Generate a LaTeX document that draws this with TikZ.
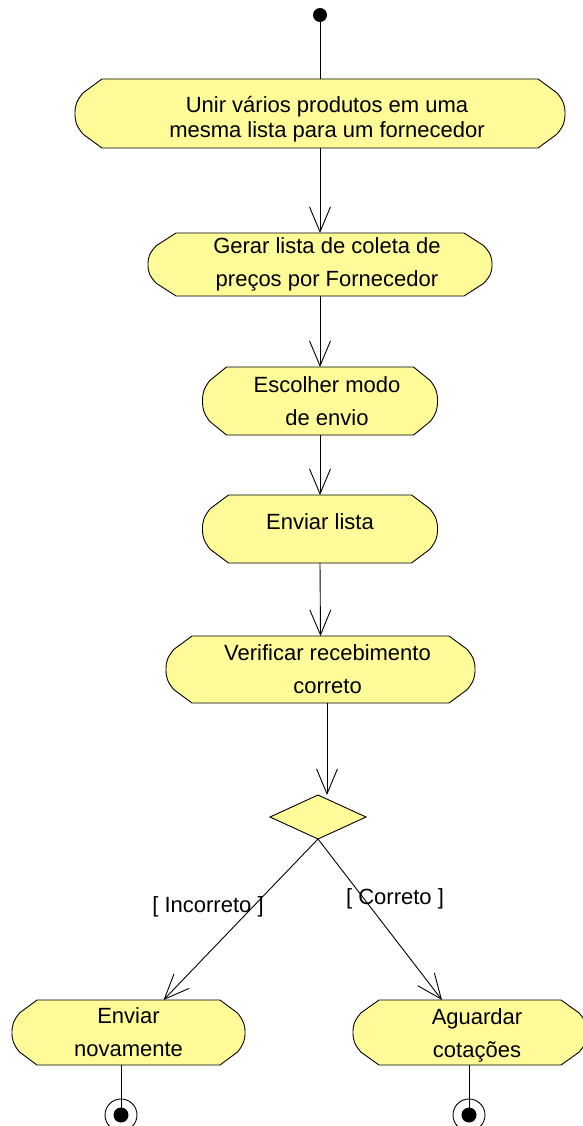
\documentclass[tikz,border=0pt]{standalone}
\usepackage{fontspec}
\setmainfont{Liberation Sans}
\usetikzlibrary{arrows.meta,shapes.geometric,calc}

\definecolor{actfill}{RGB}{255,251,153}

% Activity state: flat top and bottom, bulging chamfered sides
\makeatletter
\pgfkeys{/pgf/activity inset/.initial=24pt}
\pgfdeclareshape{activity}{
  \inheritsavedanchors[from=rectangle]
  \inheritanchorborder[from=rectangle]
  \inheritanchor[from=rectangle]{center}
  \inheritanchor[from=rectangle]{north}
  \inheritanchor[from=rectangle]{south}
  \inheritanchor[from=rectangle]{east}
  \inheritanchor[from=rectangle]{west}
  \inheritanchor[from=rectangle]{north east}
  \inheritanchor[from=rectangle]{north west}
  \inheritanchor[from=rectangle]{south east}
  \inheritanchor[from=rectangle]{south west}
  \inheritanchor[from=rectangle]{text}
  \inheritanchor[from=rectangle]{base}
  \inheritanchor[from=rectangle]{mid}
  \backgroundpath{%
    \southwest \pgf@xa=\pgf@x \pgf@ya=\pgf@y
    \northeast \pgf@xb=\pgf@x \pgf@yb=\pgf@y
    \edef\act@L{\strip@pt\pgf@xa}\edef\act@R{\strip@pt\pgf@xb}%
    \edef\act@B{\strip@pt\pgf@ya}\edef\act@T{\strip@pt\pgf@yb}%
    \pgfmathsetmacro\act@E{\pgfkeysvalueof{/pgf/activity inset}}%
    \pgfmathsetmacro\act@H{\act@T-\act@B}%
    \pgfmathsetmacro\act@M{(\act@T+\act@B)/2}%
    \pgfmathsetmacro\act@La{\act@L+\act@E}%
    \pgfmathsetmacro\act@Lb{\act@L+0.3*\act@E}%
    \pgfmathsetmacro\act@Lc{\act@L+0.05*\act@E}%
    \pgfmathsetmacro\act@Ra{\act@R-\act@E}%
    \pgfmathsetmacro\act@Rb{\act@R-0.3*\act@E}%
    \pgfmathsetmacro\act@Rc{\act@R-0.05*\act@E}%
    \pgfmathsetmacro\act@Ta{\act@T-0.2*\act@H}%
    \pgfmathsetmacro\act@Tb{\act@T-0.32*\act@H}%
    \pgfmathsetmacro\act@Ba{\act@B+0.2*\act@H}%
    \pgfmathsetmacro\act@Bb{\act@B+0.32*\act@H}%
    \pgfmathsetmacro\act@Mu{\act@M+0.12*\act@H}%
    \pgfmathsetmacro\act@Md{\act@M-0.12*\act@H}%
    \def\act@p##1##2{\pgfqpoint{##1pt}{##2pt}}%
    \pgfpathmoveto{\act@p\act@La\act@T}%
    \pgfpathlineto{\act@p\act@Ra\act@T}%
    \pgfpathlineto{\act@p\act@Rb\act@Ta}%
    \pgfpathcurveto{\act@p\act@Rc\act@Tb}{\act@p\act@R\act@Mu}{\act@p\act@R\act@M}%
    \pgfpathcurveto{\act@p\act@R\act@Md}{\act@p\act@Rc\act@Bb}{\act@p\act@Rb\act@Ba}%
    \pgfpathlineto{\act@p\act@Ra\act@B}%
    \pgfpathlineto{\act@p\act@La\act@B}%
    \pgfpathlineto{\act@p\act@Lb\act@Ba}%
    \pgfpathcurveto{\act@p\act@Lc\act@Bb}{\act@p\act@L\act@Md}{\act@p\act@L\act@M}%
    \pgfpathcurveto{\act@p\act@L\act@Mu}{\act@p\act@Lc\act@Tb}{\act@p\act@Lb\act@Ta}%
    \pgfpathclose
  }
}
\makeatother

\newcommand\indt{\hspace*{14pt}}

\tikzset{
  act/.style={shape=activity, draw=black, fill=actfill, line width=0.9pt,
    inner sep=0pt, outer sep=0pt, align=center,
    font=\fontsize{22}{33}\selectfont},
  decision/.style={diamond, draw=black, fill=actfill, line width=0.9pt,
    inner sep=0pt, outer sep=0pt, minimum width=96pt, minimum height=44pt},
  initial/.style={circle, fill=black, inner sep=0pt, minimum size=14pt},
  final/.style={circle, draw=black, line width=0.9pt, inner sep=0pt,
    minimum size=32pt,
    path picture={\fill[black] (path picture bounding box.center) circle (7.5pt);}},
  guard/.style={font=\fontsize{22}{26}\selectfont, inner sep=0pt},
  flow/.style={line width=0.9pt},
  arr/.style={flow, -{Straight Barb[length=25pt,width=21pt]}}
}

\begin{document}
\begin{tikzpicture}[x=1pt, y=-1pt]
  \useasboundingbox (0,0) rectangle (582,1126);

  \node[initial] (start) at (320,15) {};

  \node[act, minimum width=490pt, minimum height=69pt, /pgf/activity inset=27pt,
        font=\fontsize{22}{25}\selectfont] (b1) at (320,113.5)
    {\rule{0pt}{28pt}\indt Unir vários produtos em uma\\\indt mesma lista para um fornecedor};
  \node[act, minimum width=344pt, minimum height=63pt, /pgf/activity inset=28pt] (b2) at (320,264.5)
    {\indt Gerar lista de coleta de\\\indt preços por Fornecedor};
  \node[act, minimum width=235pt, minimum height=68pt, /pgf/activity inset=24pt] (b3) at (320,401)
    {\indt Escolher modo\\\indt de envio};
  \node[act, minimum width=235pt, minimum height=68pt, /pgf/activity inset=26pt] (b4) at (320,529)
    {\rule[-16pt]{0pt}{32pt}Enviar lista};
  \node[act, minimum width=309pt, minimum height=67pt, /pgf/activity inset=26pt] (b5) at (320.5,669.5)
    {\indt Verificar recebimento\\\indt correto};

  \node[decision] (dec) at (318,817) {};

  \node[act, minimum width=233pt, minimum height=65pt, /pgf/activity inset=25pt] (again) at (128.5,1032.5)
    {Enviar\\novamente};
  \node[act, minimum width=234pt, minimum height=65pt, /pgf/activity inset=26pt] (wait) at (470,1032.5)
    {\rule{0pt}{22pt}\indt Aguardar\\\indt cotações};

  \node[guard] (gno) at (208,907) {[ Incorreto ]};
  \node[guard] (gyes) at (395,899) {[ Correto ]};

  \node[final] (end1) at (121,1115) {};
  \node[final] (end2) at (469,1115) {};

  \coordinate (kx) at (327,0);

  % control flow
  \draw[flow] (start) -- (b1.north);
  \draw[arr] (b1.south) -- (b2.north);
  \draw[arr] (b2.south) -- (b3.north);
  \draw[arr] (b3.south) -- (b4.north);
  \draw[arr] (b4.south) -- (b5.north);
  \draw[arr] (b5.south -| kx) -- (dec.north -| kx);
  \draw[arr] (dec.south) -- ($(again.north)+(35,0)$);
  \draw[arr] (dec.south) -- ($(wait.north)+(-28,0)$);
  \draw[flow] (again.south -| end1) -- (end1.center);
  \draw[flow] (wait.south -| end2) -- (end2.center);
\end{tikzpicture}
\end{document}
